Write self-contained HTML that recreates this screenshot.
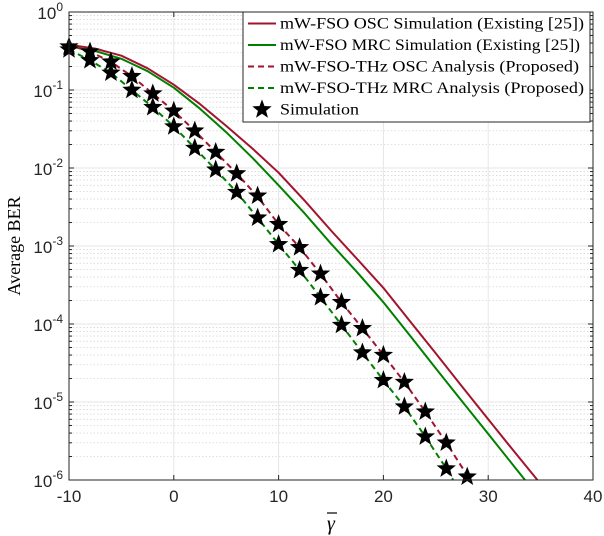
<!DOCTYPE html>
<html><head><meta charset="utf-8"><style>
body{margin:0;background:#fff}
svg{display:block}
.tk{font-family:"Liberation Sans",sans-serif;font-size:17px;fill:#262626}
.lg{font-family:"Liberation Serif",serif;font-size:16px;fill:#000}
</style></head><body>
<svg id="c" width="604" height="536"></svg>
<script>
const xTicks=[-10,0,10,20,30,40];
const yExps=[0,-1,-2,-3,-4,-5,-6];
const starX=[-10,-8,-6,-4,-2,0,2,4,6,8,10,12,14,16,18,20,22,24,26,28];
const oscStars=[0.36,0.31,0.23,0.15,0.09,0.054,0.03,0.016,0.0085,0.0044,0.0019,0.00096,4.4e-4,1.9e-4,8.8e-5,4e-5,1.8e-5,7.5e-6,3e-6,1.1e-6];
const mrcStarX=[-10,-8,-6,-4,-2,0,2,4,6,8,10,12,14,16,18,20,22,24,26];
const mrcStars=[0.33,0.24,0.166,0.1,0.06,0.034,0.018,0.0095,0.0049,0.0023,0.00105,4.9e-4,2.2e-4,9.7e-5,4.3e-5,1.9e-5,8.7e-6,3.6e-6,1.4e-6];
const oscAnaX=[-10,-8,-6,-4,-2,0,2,4,6,8,10,12,14,16,18,20,22,24,26,28,30];
const oscAna=[0.38,0.31,0.23,0.15,0.09,0.054,0.03,0.016,0.0085,0.0043,0.0019,0.00096,4.4e-4,1.9e-4,8.8e-5,4e-5,1.8e-5,7.5e-6,3e-6,1.15e-6,4e-7];
const mrcAnaX=[-10,-8,-6,-4,-2,0,2,4,6,8,10,12,14,16,18,20,22,24,26,28];
const mrcAna=[0.33,0.24,0.166,0.1,0.06,0.034,0.018,0.0095,0.0049,0.0023,0.00105,4.9e-4,2.2e-4,9.7e-5,4.3e-5,1.9e-5,8.7e-6,3.6e-6,1.4e-6,5e-7];
const simX=[-10,-7.5,-5,-2.5,0,2.5,5,7.5,10,12.5,15,17.5,20,22.5,25,27.5,30,32.5,35,37.5];
const oscSim=[0.38,0.339,0.275,0.19,0.117,0.066,0.0347,0.0178,0.0087,0.0038,0.00158,6.8e-4,2.9e-4,1.1e-4,4.2e-5,1.58e-5,6e-6,2.3e-6,8.9e-7,3.4e-7];
const mrcSim=[0.363,0.316,0.251,0.174,0.107,0.0575,0.0288,0.0135,0.006,0.0026,0.00107,4.6e-4,1.9e-4,7.2e-5,2.7e-5,1.02e-5,3.9e-6,1.48e-6,5.6e-7,2.1e-7];

const NS='http://www.w3.org/2000/svg';
const svg=document.getElementById('c');
const L=69,R=593,T=12,B=480;
const xs=v=>L+(v+10)/50*(R-L);
const ys=v=>T+(-Math.log10(v))/6*(B-T);
function mk(t,a,p){const e=document.createElementNS(NS,t);for(const k in a)e.setAttribute(k,a[k]);(p||svg).appendChild(e);return e;}

const defs=mk('defs',{});
const cp=mk('clipPath',{id:'cp'},defs);mk('rect',{x:L,y:T,width:R-L,height:B-T},cp);
const grid=mk('g',{});


for(let d=0;d<6;d++)for(let m=2;m<=9;m++){const y=ys(m*Math.pow(10,-d-1));mk('line',{x1:L,x2:R,y1:y,y2:y,stroke:'#d8d8d8','stroke-width':0.8,'stroke-dasharray':'1.5,2'},grid);}
for(const e of yExps){const y=ys(Math.pow(10,e));mk('line',{x1:L,x2:R,y1:y,y2:y,stroke:'#e6e6e6','stroke-width':1},grid);}
for(const t of xTicks){const x=xs(t);mk('line',{x1:x,x2:x,y1:T,y2:B,stroke:'#e6e6e6','stroke-width':1},grid);}

const plot=mk('g',{'clip-path':'url(#cp)'});
function line(X,Y,col,dash,name){const p=mk('path',{d:X.map((x,i)=>(i?'L':'M')+xs(x).toFixed(1)+','+ys(Y[i]).toFixed(1)).join(''),fill:'none',stroke:col,'stroke-width':2,'stroke-linejoin':'round','stroke-dasharray':dash||'none'},plot);

}
line(simX,oscSim,'#a2142f','', 'osc-simulation-line');
line(simX,mrcSim,'#008000','', 'mrc-simulation-line');
line(oscAnaX,oscAna,'#a2142f','6,4','osc-analysis-line');
line(mrcAnaX,mrcAna,'#008000','6,4','mrc-analysis-line');
function star(cx,cy,r,p){let pts=[];for(let i=0;i<10;i++){const a=-Math.PI/2+i*Math.PI/5,rr=i%2?r*0.42:r;pts.push((cx+rr*Math.cos(a)).toFixed(1)+','+(cy+rr*Math.sin(a)).toFixed(1));}return mk('polygon',{points:pts.join(' '),fill:'#000',stroke:'#000','stroke-width':0.8},p);}
const stars=mk('g',{});
starX.forEach((x,i)=>{const s=star(xs(x),ys(oscStars[i]),9,stars);

});
mrcStarX.forEach((x,i)=>{const s=star(xs(x),ys(mrcStars[i]),9,stars);

});

mk('rect',{x:L,y:T,width:R-L,height:B-T,fill:'none',stroke:'#262626','stroke-width':1});
for(const t of xTicks){const x=xs(t);mk('line',{x1:x,x2:x,y1:B,y2:B-5,stroke:'#262626'});mk('line',{x1:x,x2:x,y1:T,y2:T+5,stroke:'#262626'});
const tx=mk('text',{x:x,y:B+22,'text-anchor':'middle',class:'tk'});tx.textContent=t;

}
for(const e of yExps){const y=ys(Math.pow(10,e));mk('line',{x1:L,x2:L+5,y1:y,y2:y,stroke:'#262626'});mk('line',{x1:R,x2:R-5,y1:y,y2:y,stroke:'#262626'});
const tx=mk('text',{x:L-6,y:y+7,'text-anchor':'end',class:'tk'});tx.innerHTML='10<tspan dy="-8" font-size="12">'+e+'</tspan>';

}
for(let d=0;d<6;d++)for(let m=2;m<=9;m++){const y=ys(m*Math.pow(10,-d-1));mk('line',{x1:L,x2:L+3,y1:y,y2:y,stroke:'#262626'});mk('line',{x1:R,x2:R-3,y1:y,y2:y,stroke:'#262626'});}

const yl=mk('text',{x:0,y:0,transform:'translate(20,246) rotate(-90)','text-anchor':'middle',class:'lg'});yl.textContent='Average BER';yl.style.fontSize='18px';


const xl=mk('text',{x:331,y:530,'text-anchor':'middle',class:'lg'});xl.style.fontSize='20px';xl.style.fontStyle='italic';xl.textContent='γ';


mk('line',{x1:327,x2:337,y1:513,y2:513,stroke:'#000','stroke-width':1.2});

const lg=mk('g',{});


mk('rect',{x:243,y:12,width:347,height:110,fill:'#fff',stroke:'#262626','stroke-width':1},lg);
const items=[['#a2142f','','mW-FSO OSC Simulation (Existing [25])',304],['#008000','','mW-FSO MRC Simulation (Existing [25])',300],['#a2142f','6,4','mW-FSO-THz OSC Analysis (Proposed)',299],['#008000','6,4','mW-FSO-THz MRC Analysis (Proposed)',304],[null,'','Simulation',79]];
items.forEach((it,i)=>{const y=23.5+i*21.5;
if(it[0])mk('line',{x1:248,x2:276,y1:y,y2:y,stroke:it[0],'stroke-width':2,'stroke-dasharray':it[1]||'none'},lg);else star(262,y,9,lg);
const t=mk('text',{x:280,y:y+5,class:'lg',textLength:it[3],lengthAdjust:'spacingAndGlyphs'},lg);t.textContent=it[2];

});
</script>
</body></html>
